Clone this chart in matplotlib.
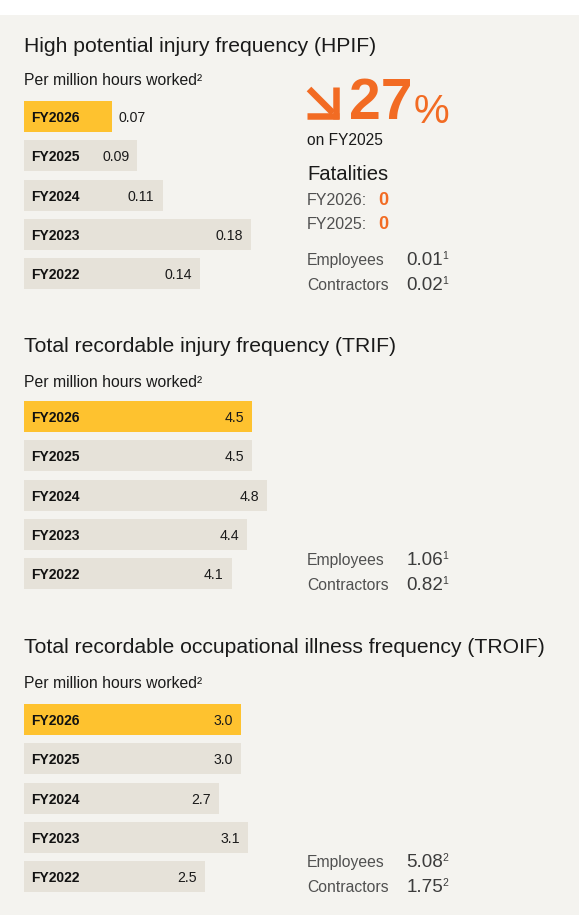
import matplotlib
matplotlib.use("Agg")
import matplotlib.pyplot as plt
from matplotlib.patches import Rectangle
from matplotlib.lines import Line2D

plt.rcParams['font.family'] = ['Liberation Sans', 'DejaVu Sans']

# ---------------- data ----------------
years = ["FY2026", "FY2025", "FY2024", "FY2023", "FY2022"]
hpif = [0.07, 0.09, 0.11, 0.18, 0.14]
trif = [4.5, 4.5, 4.8, 4.4, 4.1]
troif = [3.0, 3.0, 2.7, 3.1, 2.5]

titles = ["High potential injury frequency (HPIF)",
          "Total recordable injury frequency (TRIF)",
          "Total recordable occupational illness frequency (TROIF)"]
subtitle = "Per million hours worked²"

hpif_change = "27"
hpif_change_note = "on FY2025"
fatal_title = "Fatalities"
fatal_years = ["FY2026:", "FY2025:"]
fatal_values = ["0", "0"]

worker_labels = ["Employees", "Contractors"]
hpif_rates = ["0.01", "0.02"]
hpif_notes = ["1", "1"]
trif_rates = ["1.06", "0.82"]
trif_notes = ["1", "1"]
troif_rates = ["5.08", "1.75"]
troif_notes = ["2", "2"]

# ---------------- style ----------------
W, H, DPI = 579, 918, 100
BG = "#f4f3ef"
GREY_BAR = "#e6e2d9"
YELLOW = "#fec22f"
ORANGE = "#f26b23"
DARK = "#1a1a1a"
MID = "#505050"
NUM = "#3c3c3c"

fig = plt.figure(figsize=(W / DPI, H / DPI), dpi=DPI, facecolor="white")

bg = fig.add_axes([0, 0, 1, 1], zorder=0)
bg.set_xlim(0, W)
bg.set_ylim(H, 0)
bg.axis("off")
bg.add_patch(Rectangle((0, 15), W, 900, facecolor=BG, edgecolor="none"))

PITCH = 39.4
BAR_H = 31 / PITCH

panels = [
    dict(values=hpif, fmt="{:.2f}", title_y=52, sub_y=85, top=96.6, xmax=280 / 1260.0,
         rates=hpif_rates, notes=hpif_notes, rate_y=[265, 290]),
    dict(values=trif, fmt="{:.1f}", title_y=352, sub_y=387, top=396.6, xmax=280 / 50.7,
         rates=trif_rates, notes=trif_notes, rate_y=[565, 590]),
    dict(values=troif, fmt="{:.1f}", title_y=653, sub_y=688, top=699.5, xmax=280 / 72.25,
         rates=troif_rates, notes=troif_notes, rate_y=[867, 892]),
]

for p, title in zip(panels, titles):
    bg.text(24, p["title_y"], title, fontsize=15.2, color=DARK, va="baseline", ha="left")
    bg.text(24, p["sub_y"], subtitle, fontsize=11.3, color=DARK, va="baseline", ha="left")

    ax_h = 5 * PITCH
    ax = fig.add_axes([24 / W, 1 - (p["top"] + ax_h) / H, 280 / W, ax_h / H], zorder=1)
    ax.patch.set_alpha(0)
    ax.set_xlim(0, p["xmax"])
    ax.set_ylim(4.5, -0.5)
    ax.axis("off")
    ypos = list(range(len(years)))
    colors = [YELLOW] + [GREY_BAR] * (len(years) - 1)
    ax.barh(ypos, p["values"], height=BAR_H, color=colors, edgecolor="none")
    px_per_unit = 280 / p["xmax"]
    for i, (yr, v) in enumerate(zip(years, p["values"])):
        ax.annotate(yr, xy=(0, i), xytext=(7 * 0.72, 0), textcoords="offset points",
                    ha="left", va="center_baseline", fontsize=10, fontweight="bold",
                    color="#111111")
        label = p["fmt"].format(v)
        if v * px_per_unit < 100:
            ax.annotate(label, xy=(v, i), xytext=(6 * 0.72, 0), textcoords="offset points",
                        ha="left", va="center_baseline", fontsize=10.2, color="#1a1a1a")
        else:
            ax.annotate(label, xy=(v, i), xytext=(-8 * 0.72, 0), textcoords="offset points",
                        ha="right", va="center_baseline", fontsize=10.2, color="#1a1a1a")

    for lab, rate, note, yb in zip(worker_labels, p["rates"], p["notes"], p["rate_y"]):
        bg.text(307, yb, lab, fontsize=11.3, color=MID, va="baseline", ha="left")
        t = bg.text(406.5, yb, rate, fontsize=13.6, color=NUM, va="baseline", ha="left")
        bg.annotate(note, xy=(1, 1), xycoords=t, xytext=(-0.8, 0.5), textcoords="offset points",
                    fontsize=7.5, color=NUM, ha="left", va="top")

# ---------------- HPIF highlight ----------------
lw = 6.5 * 0.72
bg.add_line(Line2D([309, 333], [89, 113], color=ORANGE, lw=lw, solid_capstyle="butt"))
bg.add_line(Line2D([307, 339], [115.8, 115.8], color=ORANGE, lw=lw, solid_capstyle="butt"))
bg.add_line(Line2D([335.7, 335.7], [87, 119], color=ORANGE, lw=lw, solid_capstyle="butt"))
t27 = bg.text(349, 119, hpif_change, fontsize=41, fontweight="bold", color=ORANGE,
              va="baseline", ha="left")
bg.annotate("%", xy=(1, 0), xycoords=t27, xytext=(0.5, 0), textcoords="offset points",
            fontsize=29, color=ORANGE, ha="left", va="bottom")
bg.text(307, 145, hpif_change_note, fontsize=11.2, color=DARK, va="baseline", ha="left")
bg.text(307, 180, fatal_title, fontsize=14.6, color=DARK, va="baseline", ha="left")
for fy, fv, yb in zip(fatal_years, fatal_values, [205, 229]):
    bg.text(307, yb, fy, fontsize=11.5, color=MID, va="baseline", ha="left")
    bg.text(378, yb, fv, fontsize=13, fontweight="bold", color=ORANGE, va="baseline", ha="left")

fig.savefig("out.png", dpi=DPI, facecolor="white")
